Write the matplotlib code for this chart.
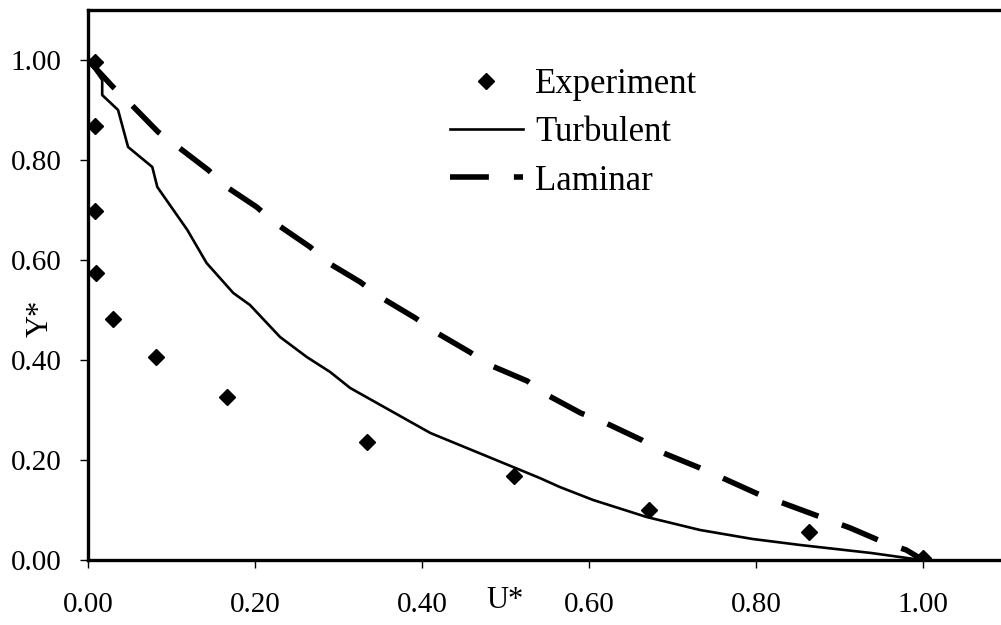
import numpy as np
import matplotlib.pyplot as plt

plt.rcParams["font.family"] = ["Liberation Serif", "DejaVu Serif"]
plt.rcParams["font.size"] = 20

# ---------------- Data ----------------
exp_u = [0.008, 0.008, 0.008, 0.010, 0.030, 0.082, 0.166, 0.334, 0.510, 0.672, 0.863, 1.000]
exp_y = [0.996, 0.868, 0.698, 0.574, 0.482, 0.406, 0.326, 0.236, 0.168, 0.100, 0.056, 0.004]

turb_u = [0.000, 0.017, 0.017, 0.036, 0.048, 0.077, 0.083, 0.119, 0.142, 0.174,
          0.194, 0.230, 0.262, 0.290, 0.314, 0.410, 0.493, 0.541, 0.565, 0.605,
          0.669, 0.733, 0.796, 0.853, 0.938, 0.985, 1.000]
turb_y = [1.000, 0.960, 0.930, 0.900, 0.826, 0.786, 0.746, 0.660, 0.594, 0.534,
          0.510, 0.446, 0.406, 0.376, 0.344, 0.254, 0.197, 0.164, 0.146, 0.120,
          0.086, 0.060, 0.042, 0.030, 0.014, 0.003, 0.000]

lam_u = [0.000, 0.030, 0.050, 0.084, 0.108, 0.144, 0.166, 0.202, 0.224, 0.266,
         0.286, 0.326, 0.350, 0.392, 0.416, 0.457, 0.481, 0.526, 0.550, 0.590,
         0.620, 0.663, 0.689, 0.733, 0.760, 0.805, 0.832, 0.913, 0.952, 0.980, 1.000]
lam_y = [1.000, 0.946, 0.914, 0.856, 0.826, 0.780, 0.746, 0.706, 0.674, 0.626,
         0.596, 0.556, 0.526, 0.484, 0.456, 0.416, 0.390, 0.358, 0.330, 0.294,
         0.274, 0.240, 0.214, 0.184, 0.164, 0.130, 0.114, 0.064, 0.036, 0.020, 0.000]

ticks = [0.0, 0.2, 0.4, 0.6, 0.8, 1.0]
tick_labels = ["0.00", "0.20", "0.40", "0.60", "0.80", "1.00"]

# ---------------- Layout ----------------
W, H = 1001, 625
fig = plt.figure(figsize=(W / 100, H / 100), dpi=100)
ax = fig.add_axes([88 / W, (H - 560) / H, (W - 88) / W, 550 / H])

ax.plot(exp_u, exp_y, linestyle="none", marker="D", markersize=8.6,
        color="black", label="Experiment", zorder=3)
ax.plot(turb_u, turb_y, "-", color="black", linewidth=1.9, label="Turbulent")
ax.plot(lam_u, lam_y, color="black", linewidth=4, dashes=(7, 4.5),
        label="Laminar")

ax.set_xlim(0, (W - 88) / 835)
ax.set_ylim(0, 1.10)
ax.set_xticks(ticks)
ax.set_xticklabels(tick_labels)
ax.set_yticks(ticks)
ax.set_yticklabels(tick_labels)
ax.tick_params(direction="out", length=6, width=1, color="black", labelsize=21)
ax.tick_params(axis="x", pad=17)
ax.tick_params(axis="y", pad=13)

for s in ["left", "bottom", "top"]:
    ax.spines[s].set_linewidth(2.4)
ax.spines["right"].set_visible(False)

fig.text(505 / W, 1 - 600 / H, "U*", ha="center", va="center", fontsize=22)
fig.text(40 / W, 1 - 318 / H, "Y*", ha="center", va="center", fontsize=22,
         rotation=90)

leg = ax.legend(loc="upper left", bbox_to_anchor=(450 / W, 1 - 68 / H),
                bbox_transform=fig.transFigure, frameon=False, fontsize=25,
                handlelength=2.1, handletextpad=0.35, labelspacing=0.44,
                borderpad=0, borderaxespad=0)

fig.savefig("out.png", dpi=100)
